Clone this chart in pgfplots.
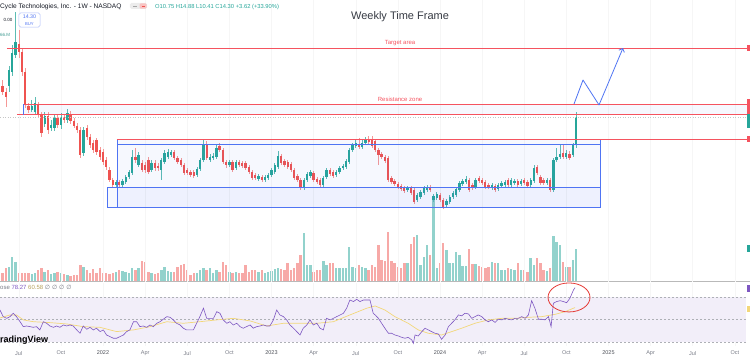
\documentclass[border=0pt]{standalone}
\usepackage{fontspec}
\setmainfont{Liberation Sans}
\newfontfamily\dejavu{DejaVu Sans}
\usepackage{pgfplots}
\pgfplotsset{compat=1.18}
\usepackage{pgfplotstable}
\usetikzlibrary{arrows.meta}

\definecolor{tvgreen}{HTML}{26A69A}
\definecolor{tvred}{HTML}{EF5350}
\definecolor{volgreen}{HTML}{92D2CC}
\definecolor{volred}{HTML}{F7A9A7}
\definecolor{drawred}{HTML}{F5535F}
\definecolor{drawblue}{HTML}{4F74F3}
\definecolor{rsipurple}{HTML}{7E57C2}
\definecolor{rsiyellow}{HTML}{F3D77A}
\definecolor{bandfill}{HTML}{F2EEF9}
\definecolor{tvgray}{HTML}{787B86}
\definecolor{txtdark}{HTML}{131722}
\definecolor{ellred}{HTML}{E53935}

% weekly candles: w = weeks since 3 Jan 2022
\pgfplotstableread{
w o h l c v
-31 18.24 19.00 17.10 17.48 4.0
-30 17.48 17.98 15.57 16.84 6.5
-29 18.24 20.78 17.48 20.27 7.0
-28 20.02 23.45 19.51 22.43 12.0
-27 22.17 27.64 21.79 23.83 9.5
-26 23.57 25.35 21.79 22.56 4.0
-25 22.56 23.06 19.51 20.02 4.0
-24 20.02 20.52 15.44 15.83 4.0
-23 15.70 16.08 14.81 15.19 4.0
-22 15.19 16.46 14.94 15.70 3.5
-21 14.94 16.84 14.56 16.08 4.0
-20 15.83 16.21 14.17 14.56 5.5
-19 14.56 14.94 11.76 12.27 6.5
-18 13.41 14.94 13.03 14.43 4.5
-17 14.43 14.94 12.14 12.65 5.5
-16 12.90 13.92 12.52 13.29 3.5
-15 12.90 14.56 12.52 14.17 4.0
-14 14.17 14.68 12.90 13.29 4.5
-13 13.29 14.81 12.78 14.30 4.0
-12 14.30 14.68 13.54 13.92 3.5
-11 13.92 15.32 13.54 14.81 3.0
-10 14.68 15.06 13.41 13.79 2.5
-9 13.79 14.17 12.90 13.16 3.0
-8 13.16 13.54 12.27 12.65 3.0
-7 12.65 13.03 9.09 9.48 8.0
-6 9.73 13.03 9.35 12.65 7.0
-5 12.90 13.29 11.38 11.76 5.5
-4 11.76 12.14 10.36 10.75 4.0
-3 11.00 11.38 9.73 10.11 6.0
-2 11.38 11.63 9.48 9.86 4.0
-1 10.11 10.49 8.84 9.22 6.5
0 9.86 10.24 8.20 8.59 4.0
1 8.84 9.22 7.57 7.95 4.0
2 7.57 7.95 6.05 6.30 3.5
3 6.30 6.55 5.41 5.67 4.0
4 5.67 6.30 5.41 6.05 4.5
5 6.05 6.30 5.28 5.67 5.5
6 5.67 6.43 5.41 6.17 5.0
7 6.05 6.94 5.79 6.68 4.5
8 6.68 7.57 6.43 7.32 4.0
9 7.19 10.11 6.94 9.22 6.5
10 9.22 10.36 8.46 8.84 5.5
11 8.20 9.86 7.95 9.48 6.5
12 8.46 8.84 7.32 7.57 10.0
13 8.20 8.59 7.19 7.57 9.5
14 8.84 9.22 7.06 7.32 4.5
15 7.57 8.84 7.32 8.46 4.0
16 8.46 8.84 7.44 7.82 3.5
17 8.08 8.46 7.44 7.82 4.0
18 7.57 9.09 6.30 8.84 5.5
19 8.59 10.11 8.33 9.73 7.0
20 9.22 10.24 8.97 9.86 5.0
21 9.48 10.11 9.22 9.86 4.5
22 9.86 10.11 8.84 9.09 4.5
23 9.09 9.35 8.33 8.59 7.0
24 8.84 9.09 7.95 8.20 8.0
25 8.20 8.46 6.94 7.19 8.5
26 7.57 7.82 6.94 7.19 5.5
27 7.32 7.57 6.68 6.94 3.0
28 7.32 7.57 6.55 6.81 4.0
29 6.94 7.95 6.68 7.70 4.0
30 7.70 9.09 7.44 8.84 5.5
31 8.84 11.38 8.59 10.75 6.5
32 10.75 11.25 8.84 9.09 5.5
33 8.84 9.60 8.59 9.22 6.5
34 9.22 9.73 8.84 9.35 4.0
35 9.22 10.75 8.97 10.36 5.5
36 10.62 11.00 9.86 10.11 4.5
37 10.11 10.36 8.33 8.59 9.5
38 8.59 8.84 7.82 8.20 8.0
39 8.20 8.84 7.95 8.59 4.5
40 8.59 8.84 7.32 7.57 4.0
41 7.82 8.84 7.57 8.59 4.5
42 8.59 8.84 7.95 8.20 4.0
43 8.46 8.71 7.82 8.08 4.0
44 8.46 8.71 7.57 7.82 8.0
45 7.95 8.20 7.06 7.32 4.5
46 7.32 7.57 6.30 6.55 5.5
47 6.94 7.19 6.30 6.55 5.5
48 6.43 7.06 6.17 6.81 4.5
49 6.68 6.94 6.05 6.30 5.5
50 6.30 6.94 6.05 6.68 4.0
51 6.55 7.19 6.30 6.94 4.5
52 6.94 7.82 6.68 7.57 5.0
53 7.32 8.46 7.06 8.20 6.0
54 7.95 9.98 7.70 9.35 6.5
55 9.35 9.60 8.20 8.46 6.0
56 8.71 8.97 7.95 8.20 5.5
57 8.59 8.84 7.70 7.95 9.0
58 8.33 8.59 7.32 7.57 5.5
59 7.57 7.82 6.30 6.55 6.5
60 6.81 7.06 6.05 6.30 9.0
61 6.30 6.55 5.03 5.28 13.0
62 5.28 6.55 5.03 6.30 24.0
63 6.30 7.32 6.05 7.06 8.0
64 6.81 7.57 6.55 7.32 8.0
65 7.19 7.44 6.05 6.30 4.5
66 6.43 6.68 5.79 6.05 5.5
67 6.30 6.55 5.41 5.67 5.5
68 5.67 6.81 5.41 6.55 10.0
69 6.68 7.82 6.43 7.57 8.0
70 7.57 7.82 6.81 7.06 9.0
71 7.32 7.57 6.55 6.81 9.0
72 6.94 7.57 6.68 7.32 6.5
73 7.32 8.08 7.06 7.82 6.5
74 7.82 8.33 7.57 8.08 6.5
75 7.95 8.97 7.70 8.71 6.5
76 8.59 10.36 8.33 10.11 17.0
77 10.11 11.00 9.86 10.75 7.0
78 10.62 11.38 10.36 11.00 6.5
79 10.87 11.63 10.24 10.49 8.0
80 10.49 11.38 10.24 11.00 7.0
81 11.00 11.76 10.75 11.38 6.5
82 11.51 11.89 10.87 11.13 5.5
83 11.38 11.89 10.36 10.62 8.0
84 11.25 11.51 9.86 10.11 7.0
85 10.11 10.36 8.20 9.48 18.0
86 9.60 9.86 8.97 9.22 10.5
87 9.22 9.48 8.46 8.71 10.0
88 9.09 9.35 6.05 6.30 24.5
89 6.55 6.81 5.79 6.05 10.0
90 6.17 6.43 5.54 5.79 9.0
91 5.79 6.05 5.16 5.41 7.0
92 5.54 5.79 4.90 5.16 6.5
93 5.28 5.54 4.65 4.90 9.0
94 5.03 5.54 4.78 5.28 9.0
95 5.28 5.54 4.40 4.65 18.5
96 5.03 5.28 3.25 3.51 22.0
97 3.76 4.65 3.51 4.40 23.0
98 4.14 5.03 3.89 4.78 8.0
99 4.65 5.54 4.40 5.28 12.0
100 5.03 5.67 4.78 5.41 18.0
101 5.41 5.67 4.78 5.03 13.0
102 3.76 4.52 3.51 4.27 42.0
103 4.01 4.78 3.76 4.52 6.5
104 4.40 4.65 3.51 3.76 9.0
105 3.76 4.01 2.62 2.87 19.0
106 3.13 3.89 2.87 3.63 15.5
107 3.51 4.40 3.25 4.14 9.0
108 4.14 4.90 3.89 4.65 9.0
109 4.40 5.41 4.14 5.16 14.5
110 5.03 6.17 4.78 5.92 13.0
111 5.79 6.43 5.54 6.17 7.5
112 6.05 6.81 5.79 6.43 7.5
113 6.30 6.55 4.78 5.03 16.0
114 5.67 5.92 5.03 5.28 8.5
115 5.41 6.55 5.16 6.30 8.5
116 6.55 6.81 5.92 6.17 7.5
117 6.30 6.55 5.67 5.92 7.0
118 6.05 6.30 5.16 5.41 6.5
119 5.67 5.92 5.16 5.41 7.0
120 5.28 5.92 5.03 5.67 9.5
121 5.54 5.79 4.78 5.03 9.0
122 5.16 5.92 4.90 5.67 9.0
123 5.54 6.17 5.28 5.92 5.5
124 5.67 6.30 5.41 6.05 5.5
125 6.30 6.55 5.41 5.67 6.5
126 5.67 6.55 5.41 6.30 6.0
127 5.92 6.43 5.67 6.17 5.5
128 6.17 6.43 5.41 5.67 9.0
129 5.79 6.43 5.54 6.17 5.5
130 6.30 6.55 5.67 5.92 5.5
131 6.05 6.30 5.28 5.54 4.5
132 5.67 6.55 5.41 6.30 11.5
133 6.17 8.20 5.92 7.82 8.0
134 7.95 8.20 6.94 7.19 11.5
135 6.68 6.94 5.67 5.92 9.0
136 6.30 6.55 5.67 5.92 5.5
137 5.92 6.55 5.67 6.30 5.0
138 6.30 6.55 4.78 5.03 6.5
139 5.03 9.09 4.78 8.84 22.5
140 8.84 10.36 8.59 9.22 19.5
141 9.22 10.87 8.97 9.60 18.0
142 9.73 10.75 8.97 9.22 9.5
143 9.22 10.11 8.97 9.73 7.0
144 9.60 9.98 8.84 9.09 7.0
145 9.48 11.00 9.22 10.75 10.5
146 10.75 14.88 10.41 14.30 16.0
}\candles

\pgfplotstableread{
w r
-31.8 58.4
-30.8 52.5
-29.7 51.0
-28.7 52.5
-27.7 55.5
-26.7 52.5
-25.6 48.0
-24.6 43.6
-23.6 44.2
-22.5 43.6
-21.5 43.0
-20.5 43.6
-19.5 40.7
-18.4 48.0
-17.4 46.6
-16.4 44.2
-15.3 43.0
-14.3 44.2
-13.3 43.0
-12.2 45.1
-11.2 44.2
-10.2 45.1
-9.2 44.2
-8.1 40.7
-7.1 37.7
-6.1 44.2
-5.0 41.3
-4.0 43.0
-3.0 40.7
-2.0 42.2
-0.9 39.2
0.1 40.7
1.1 36.2
2.2 34.7
3.2 33.3
4.2 33.3
5.2 34.7
6.3 36.2
7.3 39.2
8.3 40.7
9.4 48.0
10.4 48.0
11.4 43.6
12.4 44.2
13.5 43.0
14.5 45.1
15.5 43.6
16.6 46.6
17.6 48.0
18.6 50.2
19.7 52.5
20.7 51.9
21.7 49.6
22.7 46.6
23.8 45.1
24.8 42.2
25.8 40.7
26.9 40.7
27.9 40.7
28.9 46.6
29.9 52.5
31.0 60.0
32.0 51.0
33.0 51.0
34.1 51.0
35.1 56.9
36.1 55.5
37.1 49.6
38.2 46.6
39.2 48.0
40.2 45.1
41.3 46.6
42.3 43.6
43.3 42.2
44.3 43.6
45.4 45.1
46.4 42.2
47.4 43.6
48.5 44.2
49.5 45.1
50.5 44.2
51.5 44.2
52.6 49.6
53.6 58.4
54.6 54.0
55.7 52.5
56.7 49.6
57.7 45.1
58.8 42.2
59.8 39.2
60.8 36.2
61.8 42.2
62.9 45.1
63.9 49.6
64.9 45.1
66.0 46.6
67.0 42.2
68.0 40.7
69.0 51.0
70.1 49.6
71.1 51.0
72.1 52.5
73.2 54.0
74.2 55.5
75.2 60.0
76.2 67.3
77.3 65.9
78.3 67.9
79.3 65.9
80.4 67.3
81.4 67.3
82.4 67.3
83.4 55.5
84.0 54.0
85.0 51.0
86.0 46.6
87.0 42.2
88.1 37.7
89.1 37.7
90.1 36.2
91.2 35.3
92.2 34.1
93.2 33.3
94.2 34.1
95.3 31.8
95.8 28.8
96.3 36.2
97.3 35.3
98.4 39.2
99.4 42.2
100.4 40.7
101.4 39.2
102.5 37.7
103.5 37.1
104.5 32.4
105.6 36.2
106.6 43.6
107.6 46.6
108.6 49.6
109.7 54.0
110.7 53.2
111.7 55.5
112.8 54.9
113.8 51.0
114.8 52.5
115.8 54.0
116.9 52.5
117.9 49.6
118.9 48.0
120.0 49.6
121.0 47.4
122.0 50.2
123.1 49.6
124.1 51.0
125.1 50.2
126.1 49.6
127.2 51.0
128.2 51.0
129.2 52.5
130.3 51.0
131.3 54.0
132.3 66.7
133.3 60.0
134.4 50.2
135.4 50.2
136.4 49.6
137.5 52.5
138.3 43.6
139.0 64.4
140.0 65.9
141.1 66.7
142.1 65.9
143.1 64.9
144.1 68.8
145.2 76.2
145.7 78.27
}\rsidata

\pgfplotstableread{
w m
-31.8 51.3
-28.7 54.0
-26.7 54.0
-24.6 49.6
-21.5 48.0
-16.4 47.2
-11.2 46.0
-6.1 43.6
-0.9 43.0
4.2 39.2
9.4 40.7
14.5 43.6
19.7 48.0
24.8 46.6
29.9 48.0
35.1 49.6
40.2 51.0
45.4 48.7
50.5 44.2
55.7 46.6
60.8 46.6
66.0 46.6
71.1 48.0
76.2 54.0
81.4 60.0
84.0 62.0
87.0 58.4
90.1 52.5
94.2 46.6
97.3 40.7
100.4 37.7
104.5 36.2
107.6 39.2
110.7 42.2
114.8 46.6
118.9 49.6
123.1 51.0
127.2 51.0
131.3 51.9
135.4 52.5
139.6 54.6
142.6 56.9
145.7 60.58
}\rsima

\pgfplotsset{
  tvpane/.style={scale only axis, width=750pt, xmin=-31.790, xmax=199.691,
    axis line style={draw=none}, tick style={draw=none}, major tick length=0pt,
    ytick=\empty, clip=false},
  wick/.style={draw=none, mark=none, error bars/.cd, y dir=both, y explicit,
    error mark=none, error bar style={line width=0.5pt, draw=#1, solid}},
  body/.style={draw=none, mark=none, error bars/.cd, y dir=both, y explicit,
    error mark=none, error bar style={line width=2.3pt, draw=#1, solid}},
}

\begin{document}
\begin{tikzpicture}

% ---------------- volume pane (behind the candles)
\begin{axis}[tvpane, at={(0pt,-181pt)}, anchor=north west, height=100pt,
  ymin=0, ymax=50, xtick=\empty]
\addplot[ycomb, mark=none, draw=volgreen, line width=2.4pt]
  table[x=w, y expr={\thisrow{c}<\thisrow{o} ? nan : \thisrow{v}}] {\candles};
\addplot[ycomb, mark=none, draw=volred, line width=2.4pt]
  table[x=w, y expr={\thisrow{c}<\thisrow{o} ? \thisrow{v} : nan}] {\candles};
\draw[gray!55, line width=1pt] (axis cs:-31.79,0) -- (axis cs:199.69,0);
\fill[tvgreen] (axis cs:198.77,18) rectangle (axis cs:199.69,14.5);
\end{axis}

% ---------------- price pane
\begin{axis}[tvpane, at={(0pt,0pt)}, anchor=north west, height=282pt,
  ymin=-6.65, ymax=29.16,
  xtick={-26,-13,0,13,26,39,52,65,78,91,104,117,130,143,156,169,182,195},
  xticklabels={}, xmajorgrids, grid style={gray!7, line width=0.4pt}]

% resistance zone fill
\fill[drawblue, fill opacity=0.05] (axis cs:-24.69,15.95) rectangle (axis cs:199.69,14.62);

% candles
\addplot[wick=tvgreen!75] table[x=w,
  y expr={\thisrow{c}<\thisrow{o} ? nan : 0.5*(\thisrow{h}+\thisrow{l})},
  y error expr={0.5*(\thisrow{h}-\thisrow{l})}] {\candles};
\addplot[wick=tvred!60] table[x=w,
  y expr={\thisrow{c}<\thisrow{o} ? 0.5*(\thisrow{h}+\thisrow{l}) : nan},
  y error expr={0.5*(\thisrow{h}-\thisrow{l})}] {\candles};
\addplot[body=tvgreen] table[x=w,
  y expr={\thisrow{c}<\thisrow{o} ? nan : 0.5*(\thisrow{o}+\thisrow{c})},
  y error expr={max(0.5*abs(\thisrow{c}-\thisrow{o}),0.07)}] {\candles};
\addplot[body=tvred] table[x=w,
  y expr={\thisrow{c}<\thisrow{o} ? 0.5*(\thisrow{o}+\thisrow{c}) : nan},
  y error expr={max(0.5*abs(\thisrow{c}-\thisrow{o}),0.07)}] {\candles};

% last price line
\draw[gray!45, dotted, line width=0.5pt] (axis cs:-31.79,14.30) -- (axis cs:199.69,14.30);

% target & resistance lines
\draw[drawred, line width=0.9pt] (axis cs:-29.63,23.06) -- (axis cs:199.69,23.06);
\draw[drawred, line width=0.9pt] (axis cs:-24.69,15.95) -- (axis cs:199.69,15.95);
\draw[drawred, line width=0.9pt] (axis cs:-26.54,14.62) -- (axis cs:199.69,14.62);
\draw[drawblue, line width=0.6pt] (axis cs:-24.69,15.95) -- (axis cs:-24.69,14.62);

% range boxes
\filldraw[draw=drawblue, fill=drawblue, fill opacity=0.05, line width=0.8pt]
  (axis cs:4.32,11.51) rectangle (axis cs:153.40,2.87);
\filldraw[draw=drawblue, fill=drawblue, fill opacity=0.05, line width=0.8pt]
  (axis cs:1.23,5.41) rectangle (axis cs:153.40,2.87);
\draw[drawblue, line width=0.8pt] (axis cs:4.32,10.87) -- (axis cs:153.40,10.87);
\draw[drawred, line width=0.9pt] (axis cs:4.32,11.51) -- (axis cs:199.69,11.51);

% projected path
\draw[drawblue, line width=0.8pt, line join=round, -{Straight Barb[length=3pt,width=6pt]}]
  (axis cs:145.37,15.95) -- (axis cs:148.15,19.00) -- (axis cs:153.09,15.83) -- (axis cs:160.49,23.06);

% texts
\node[font=\fontsize{11}{13}\selectfont, text=txtdark!85] at (axis cs:91.67,27.00) {Weekly Time Frame};
\node[font=\fontsize{6}{7}\selectfont, text=drawred] at (axis cs:91.67,23.70) {Target area};
\node[font=\fontsize{6}{7}\selectfont, text=drawred] at (axis cs:91.67,16.60) {Resistance zone};

\node[anchor=west, inner sep=0pt, font=\fontsize{6.6}{7.5}\selectfont, text=txtdark]
  at (axis cs:-31.79,28.27) {Cycle Technologies, Inc. - 1W - NASDAQ};
\fill[gray!15, rounded corners=1.5pt] (axis cs:8.33,28.78) rectangle (axis cs:13.58,28.02);
\fill[tvred!35, rounded corners=1pt] (axis cs:11.30,28.72) rectangle (axis cs:13.45,28.08);
\draw[gray!70, line width=0.4pt] (axis cs:9.3,28.40) -- (axis cs:10.5,28.40);
\draw[tvred, line width=0.4pt] (axis cs:11.9,28.40) -- (axis cs:12.9,28.40);
\node[anchor=west, inner sep=0pt, font=\fontsize{5.8}{7}\selectfont, text=tvgreen]
  at (axis cs:16.05,28.27) {O10.75 H14.88 L10.41 C14.30 +3.62 (+33.90\%)};

\node[font=\fontsize{4.5}{5}\selectfont, text=txtdark] at (axis cs:-29.32,26.62) {0.00};
\filldraw[draw=drawblue!45, fill=white, rounded corners=1.5pt, line width=0.5pt]
  (axis cs:-25.93,27.51) rectangle (axis cs:-19.44,25.73);
\node[font=\fontsize{5.3}{6}\selectfont, text=drawblue] at (axis cs:-22.69,27.02) {14.30};
\node[font=\fontsize{4.2}{5}\selectfont, text=drawblue] at (axis cs:-22.69,26.16) {BUY};
\node[anchor=west, inner sep=0pt, font=\fontsize{4.5}{5}\selectfont, text=tvgreen!70!gray]
  at (axis cs:-31.79,24.72) {66.M};

% right-edge price labels (cut off)
\fill[drawred] (axis cs:198.77,23.45) rectangle (axis cs:199.69,22.68);
\fill[drawred] (axis cs:198.77,16.59) rectangle (axis cs:199.69,14.68);
\fill[tvgreen] (axis cs:198.77,14.68) rectangle (axis cs:199.69,12.90);
\fill[drawred] (axis cs:198.77,11.89) rectangle (axis cs:199.69,11.13);
\end{axis}

% ---------------- RSI pane
\begin{axis}[tvpane, at={(0pt,-283pt)}, anchor=north west, height=63pt,
  ymin=26.4, ymax=82.4,
  xtick={-26,-13,0,13,26,39,52,65,78,91,104,117,130,143,156,169,182,195},
  xticklabels={Jul,Oct,\textcolor{txtdark!75}{2022},Apr,Jul,Oct,\textcolor{txtdark!75}{2023},Apr,Jul,Oct,\textcolor{txtdark!75}{2024},Apr,Jul,Oct,\textcolor{txtdark!75}{2025},Apr,Jul,Oct},
  xticklabel style={font=\fontsize{5.5}{6}\selectfont, text=tvgray, yshift=-1.5pt},
  xmajorgrids, grid style={gray!7, line width=0.4pt}]
\fill[bandfill] (axis cs:-31.79,30) rectangle (axis cs:198.46,70);
\draw[tvgray!60, dash pattern=on 2pt off 2pt, line width=0.45pt] (axis cs:-31.79,70) -- (axis cs:198.46,70);
\draw[tvgray!60, dash pattern=on 2pt off 2pt, line width=0.45pt] (axis cs:-31.79,50) -- (axis cs:198.46,50);
\draw[tvgray!60, dash pattern=on 2pt off 2pt, line width=0.45pt] (axis cs:-31.79,30) -- (axis cs:198.46,30);
\addplot[rsiyellow, line width=0.7pt, mark=none] table[x=w, y=m] {\rsima};
\addplot[rsipurple, line width=0.6pt, mark=none] table[x=w, y=r] {\rsidata};
\draw[ellred, line width=0.8pt] (axis cs:143.83,69.56) ellipse [x radius=21pt, y radius=14.5pt];
\node[anchor=west, inner sep=0pt, font=\fontsize{6}{7}\selectfont] at (axis cs:-31.79,78.84)
  {\textcolor{tvgray}{ose}\ \textcolor{rsipurple}{78.27}\ \textcolor{rsiyellow!75!black}{60.58}\ \textcolor{tvgray}{\dejavu ∅ ∅ ∅ ∅}};
\node[anchor=west, inner sep=0pt, font=\bfseries\fontsize{9}{10}\selectfont, text=black]
  at (axis cs:-31.79,31.73) {radingView};
\fill[rsipurple] (axis cs:198.77,80.62) rectangle (axis cs:199.69,74.40);
\fill[rsiyellow] (axis cs:198.77,61.96) rectangle (axis cs:199.69,56.62);
\end{axis}

\pgfresetboundingbox
\useasboundingbox (0pt,0pt) rectangle (750pt,-359pt);
\end{tikzpicture}
\end{document}
